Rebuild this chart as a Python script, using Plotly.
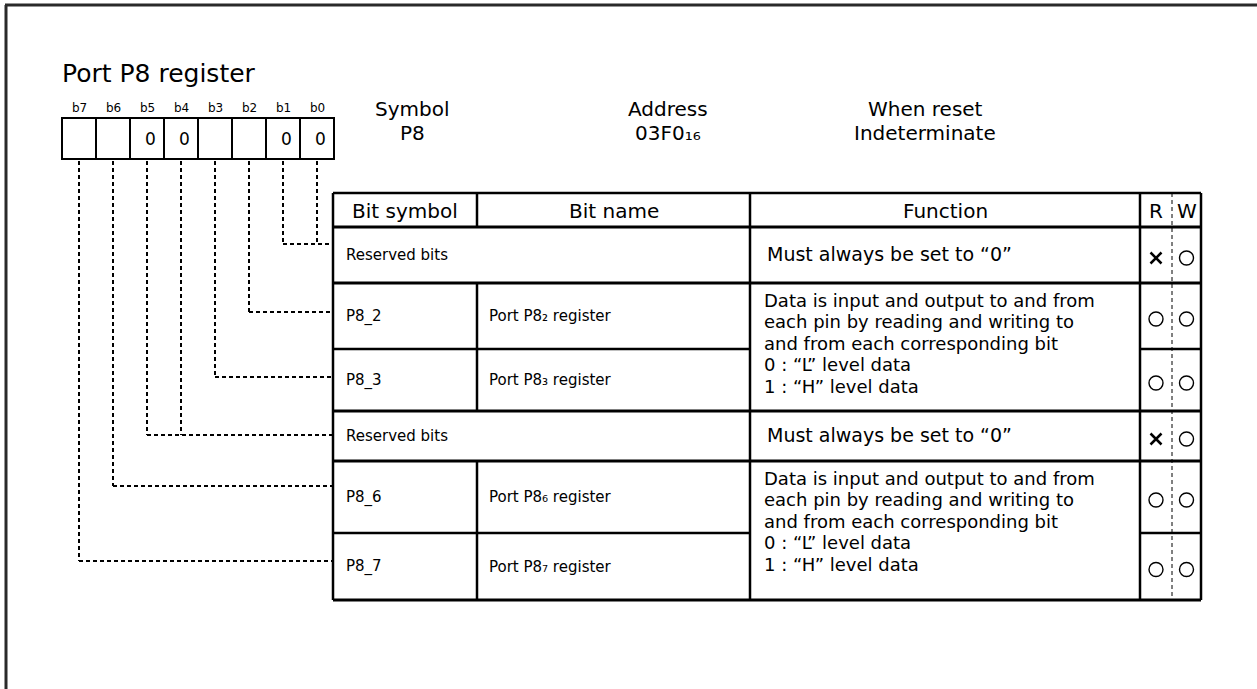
import plotly.graph_objects as go

# ---------------- data ----------------
title_text = "Port P8 register"
bit_labels = ["b7", "b6", "b5", "b4", "b3", "b2", "b1", "b0"]
bit_values = ["", "", "0", "0", "", "", "0", "0"]
info_heads = ["Symbol", "Address", "When reset"]
info_vals = ["P8", "03F0\u2081\u2086", "Indeterminate"]
col_heads = ["Bit symbol", "Bit name", "Function", "R", "W"]
row_symbols = ["Reserved bits", "P8_2", "P8_3", "Reserved bits", "P8_6", "P8_7"]
row_names = ["", "Port P8\u2082 register", "Port P8\u2083 register",
             "", "Port P8\u2086 register", "Port P8\u2087 register"]
row_read = ["x", "o", "o", "x", "o", "o"]
row_write = ["o", "o", "o", "o", "o", "o"]
func_reserved = "Must always be set to \u201c0\u201d"
func_port = ["Data is input and output to and from",
             "each pin by reading and writing to",
             "and from each corresponding bit",
             "0 : \u201cL\u201d level data",
             "1 : \u201cH\u201d level data"]
# which table row each bit connects to (b7..b0)
bit_row = [5, 4, 3, 3, 2, 1, 0, 0]

# ---------------- layout geometry ----------------
W, H = 1257, 689
FONT = "DejaVu Sans, Liberation Sans, Arial, sans-serif"
BOX_X0, CELL, BOX_Y0, BOX_Y1 = 62, 34, 118, 159
X0, X1, X2, X3, XRW, X4 = 333, 477, 750, 1140, 1172, 1201
ROW_Y = [193, 227, 283, 349, 411, 461, 533, 600]   # header top .. table bottom
CONN_Y = [244, 312, 377, 435, 486, 561]           # connector y for each row

fig = go.Figure()
shapes = []
ann = []

def line(x0, y0, x1, y1, w=2, dash=None, color="#000"):
    d = dict(type="line", x0=x0, y0=y0, x1=x1, y1=y1, xref="x", yref="y",
             line=dict(color=color, width=w))
    if dash:
        d["line"]["dash"] = dash
    shapes.append(d)

def text(x, y, s, size, xanchor="center", yanchor="middle", align="center"):
    ann.append(dict(x=x, y=y, xref="x", yref="y", text=s, showarrow=False,
                    xanchor=xanchor, yanchor=yanchor, align=align,
                    font=dict(family=FONT, size=size, color="#000")))

# outer frame
line(5, 5, W, 5, w=3, color="#2a2a2a")
line(6, 5, 6, H, w=3, color="#2a2a2a")

# title
text(60, 73, title_text, 25, xanchor="left")

# bit boxes
shapes.append(dict(type="rect", x0=BOX_X0, y0=BOX_Y0, x1=BOX_X0 + 8 * CELL, y1=BOX_Y1,
                   xref="x", yref="y", line=dict(color="#000", width=2)))
for i in range(1, 8):
    line(BOX_X0 + i * CELL, BOX_Y0, BOX_X0 + i * CELL, BOX_Y1, w=2)
for i, (lab, val) in enumerate(zip(bit_labels, bit_values)):
    cx = BOX_X0 + i * CELL + CELL / 2
    text(cx, 108, lab, 12)
    if val:
        text(cx + 3, 139, val, 17)

# info
for i, (h, v) in enumerate(zip(info_heads, info_vals)):
    cx = [412, 668, 925][i]
    text(cx, 109, h, 20)
    text(cx, 133, v, 20)

# connectors (dashed)
DASH = "4px,3px"
for i, r in enumerate(bit_row):
    cx = BOX_X0 + i * CELL + CELL / 2
    line(cx, 161, cx, CONN_Y[r], w=2, dash=DASH)
# horizontal parts start at the leftmost bit of each row
for r in range(len(row_symbols)):
    xs = [BOX_X0 + i * CELL + CELL / 2 for i, rr in enumerate(bit_row) if rr == r]
    line(min(xs), CONN_Y[r], X0, CONN_Y[r], w=2, dash=DASH)

# table lines
TW = 2.5
line(X0, ROW_Y[0], X4, ROW_Y[0], w=TW)
for k in range(1, 8):
    y = ROW_Y[k]
    if k in (3, 6):   # split between merged-function rows
        line(X0, y, X2, y, w=TW)
        line(X3, y, X4, y, w=TW)
    else:
        line(X0, y, X4, y, w=3)
for x in (X0, X2, X3, X4):
    line(x, ROW_Y[0], x, ROW_Y[-1], w=TW)
line(X1, ROW_Y[0], X1, ROW_Y[1], w=TW)
line(X1, ROW_Y[2], X1, ROW_Y[4], w=TW)
line(X1, ROW_Y[5], X1, ROW_Y[7], w=TW)
line(XRW, ROW_Y[0], XRW, ROW_Y[-1], w=1, dash="4px,3px")

# header texts
hy = (ROW_Y[0] + ROW_Y[1]) / 2
for s, cx in zip(col_heads, [(X0 + X1) / 2, (X1 + X2) / 2, (X2 + X3) / 2,
                             (X3 + XRW) / 2, (XRW + X4) / 2]):
    text(cx, hy + 1, s, 20)

# row texts
for r in range(len(row_symbols)):
    cy = (ROW_Y[r + 1] + ROW_Y[r + 2]) / 2
    text(X0 + 11, cy, row_symbols[r], 15, xanchor="left")
    if row_names[r]:
        text(X1 + 10, cy, row_names[r], 15, xanchor="left")

# function texts
for r in (0, 3):
    cy = (ROW_Y[r + 1] + ROW_Y[r + 2]) / 2
    text(X2 + 15, cy - 1, func_reserved, 19, xanchor="left")
for r0 in (1, 4):
    top = ROW_Y[r0 + 1]
    for j, s in enumerate(func_port):
        text(X2 + 12, top + 17 + j * 21.6, s, 18, xanchor="left")

# R/W marks via scatter markers
mx, my, ms = [], [], []
for r in range(len(row_symbols)):
    cy = (ROW_Y[r + 1] + ROW_Y[r + 2]) / 2 + 3
    for val, cx in ((row_read[r], (X3 + XRW) / 2), (row_write[r], (XRW + X4) / 2)):
        mx.append(cx); my.append(cy); ms.append(val)
circ = [(x, y) for x, y, s in zip(mx, my, ms) if s == "o"]
cros = [(x, y) for x, y, s in zip(mx, my, ms) if s == "x"]
fig.add_trace(go.Scatter(x=[c[0] for c in circ], y=[c[1] for c in circ], mode="markers",
                         marker=dict(symbol="circle-open", size=14, color="#000",
                                     line=dict(width=1.4)),
                         hoverinfo="skip", showlegend=False))
fig.add_trace(go.Scatter(x=[c[0] for c in cros], y=[c[1] for c in cros], mode="markers",
                         marker=dict(symbol="x-thin-open", size=11, color="#000",
                                     line=dict(width=2.5)),
                         hoverinfo="skip", showlegend=False))

fig.update_layout(
    width=W, height=H, margin=dict(l=0, r=0, t=0, b=0),
    paper_bgcolor="white", plot_bgcolor="white",
    xaxis=dict(range=[0, W], visible=False, fixedrange=True),
    yaxis=dict(range=[H, 0], visible=False, fixedrange=True),
    shapes=shapes, annotations=ann, showlegend=False,
)
fig.write_html("out.html", config={"displayModeBar": False},
               post_script="document.body.style.margin='0';document.body.style.overflow='hidden';")
